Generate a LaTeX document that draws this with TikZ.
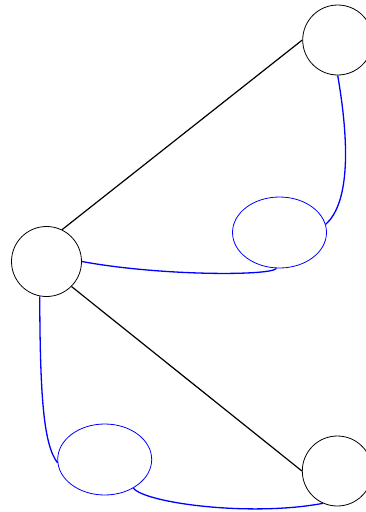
\documentclass[tikz,border=0pt]{standalone}
\usetikzlibrary{shapes.geometric}
\begin{document}
\begin{tikzpicture}[x=1pt,y=-1pt,
  bigcircle/.style={draw=black,circle,line width=0.8pt,minimum size=70pt,inner sep=0pt},
  blueell/.style={draw=blue,ellipse,line width=0.8pt,minimum width=94pt,minimum height=71pt,inner sep=0pt},
  blackline/.style={draw=black,line width=1.2pt},
  blueline/.style={draw=blue,line width=1.3pt}]
\useasboundingbox (0,0) rectangle (366,512);
\clip (0,0) rectangle (366,512);
\node[bigcircle] (left) at (46.5,261.5) {};
\node[bigcircle] (tr) at (337.7,40) {};
\node[bigcircle] (br) at (337.3,471) {};
\node[blueell] (e1) at (279.5,232.5) {};
\node[blueell] (e2) at (104.7,459.5) {};
\draw[blackline] (left.64) -- (tr.west);
\draw[blackline] (left.south east) -- (br.west);
\draw[blueline] (tr.south) .. controls (351.2,153.8) and (347.3,205) .. (e1.10);
\draw[blueline] (e1.-95) .. controls (272,276) and (160,276) .. (left.east);
\draw[blueline] (left.-101) .. controls (40,400) and (44,445) .. (e2.184);
\draw[blueline] (e2.-45) .. controls (145,503) and (250,517) .. (br.-114);
\end{tikzpicture}
\end{document}
